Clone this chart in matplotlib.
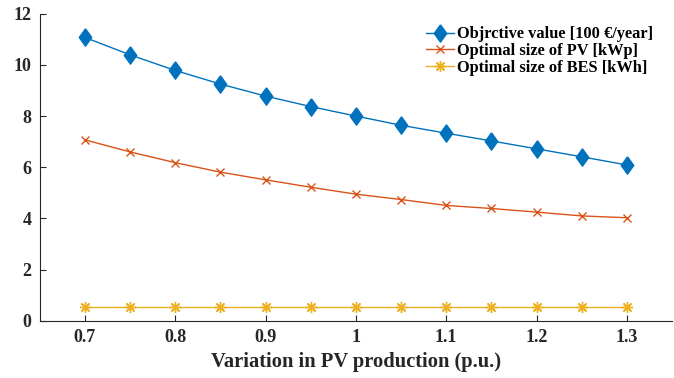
import matplotlib
matplotlib.use("Agg")
import matplotlib.pyplot as plt

# datos
variacion = [0.7, 0.75, 0.8, 0.85, 0.9, 0.95, 1.0, 1.05, 1.1, 1.15, 1.2, 1.25, 1.3]
objetivo = [11.07, 10.39, 9.78, 9.25, 8.78, 8.37, 8.0, 7.64, 7.33, 7.03, 6.72, 6.41, 6.09]
tam_pv = [7.07, 6.60, 6.18, 5.81, 5.51, 5.22, 4.95, 4.74, 4.51, 4.39, 4.25, 4.10, 4.03]
tam_bes = [0.53] * 13

xticks = [0.7, 0.8, 0.9, 1.0, 1.1, 1.2, 1.3]
xtick_labels = ["0.7", "0.8", "0.9", "1", "1.1", "1.2", "1.3"]
yticks = [0, 2, 4, 6, 8, 10, 12]

plt.rcParams["font.family"] = ["Liberation Serif", "DejaVu Serif"]
plt.rcParams["font.weight"] = "bold"

TEXTO = "#262626"
diamante = [(0, 1), (0.72, 0), (0, -1), (-0.72, 0), (0, 1)]

fig = plt.figure(figsize=(6.74, 3.78), dpi=100)
ax = fig.add_axes([0.059, 0.151, 0.938, 0.813])

ax.plot(variacion, objetivo, color="#0072BD", lw=1.0, marker=diamante,
        markersize=12.5, markerfacecolor="#0072BD", markeredgecolor="#0072BD",
        label="Objrctive value [100 \u20ac/year]")
ax.plot(variacion, tam_pv, color="#D95319", lw=1.0, marker="x",
        markersize=6, markeredgewidth=1.0, label="Optimal size of PV [kWp]")
ax.plot(variacion, tam_bes, color="#EDB120", lw=1.0, marker=(8, 2, 0),
        markersize=8, markeredgewidth=1.0, label="Optimal size of BES [kWh]")

ax.set_xlim(0.65, 1.35)
ax.set_ylim(0, 12)
ax.set_xticks(xticks)
ax.set_xticklabels(xtick_labels)
ax.set_yticks(yticks)
ax.tick_params(direction="in", length=4.5, width=0.8, labelsize=13,
               colors=TEXTO, pad=6)
for lab in ax.get_xticklabels() + ax.get_yticklabels():
    lab.set_fontweight("bold")

ax.spines["top"].set_visible(False)
ax.spines["right"].set_visible(False)
for s in ("left", "bottom"):
    ax.spines[s].set_color(TEXTO)
    ax.spines[s].set_linewidth(0.8)

ax.set_xlabel("Variation in PV production (p.u.)", fontsize=14.8,
              fontweight="bold", color=TEXTO, labelpad=4)

leg = ax.legend(loc="upper right", bbox_to_anchor=(0.981, 0.98), frameon=False,
                fontsize=11.8, handlelength=1.7, handletextpad=0.2,
                labelspacing=0.05, borderaxespad=0)
for t in leg.get_texts():
    t.set_fontweight("bold")
    t.set_color("black")

fig.savefig("out.png", dpi=100)
